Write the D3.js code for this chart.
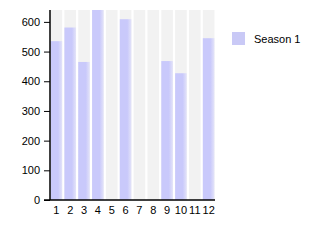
<!DOCTYPE html>
<html>
  <head>
    <meta charset="utf-8">
    <title>season chart</title>
    <style>
      body { margin: 0; background: #fff; }
      text { font-family: "Liberation Sans", Arial, sans-serif; }
    </style>
  </head>
  <body>
    <div class="chart"></div>
    <script src="https://d3js.org/d3.v7.min.js"></script>
    <script>
        var w = 315, h = 250;
        var categories = ["1", "2", "3", "4", "5", "6", "7", "8", "9", "10", "11", "12"];
        var seasonValues = [535, 581, 465, 660, 0, 609, 0, 0, 468, 427, 0, 545];
        var yTicks = [0, 100, 200, 300, 400, 500, 600];
        var seriesName = "Season 1";

        var plotLeft = 50, plotRight = 215, plotTop = 10, plotBottom = 200;

        var svg = d3.select(".chart")
        	.append("svg")
        	.attr("width", w)
        	.attr("height", h);

        var x = d3.scaleBand().domain(categories).range([plotLeft, plotRight]).paddingInner(0.16).paddingOuter(0.04);
        var y = d3.scaleLinear().domain([0, 640]).range([plotBottom, plotTop]);

        var defs = svg.append("defs");
        var grad = defs.append("linearGradient").attr("id", "barGrad")
        	.attr("x1", "0%").attr("x2", "100%").attr("y1", "0%").attr("y2", "0%");
        grad.append("stop").attr("offset", "0%").attr("stop-color", "#c9c9fb");
        grad.append("stop").attr("offset", "65%").attr("stop-color", "#c9c9fb");
        grad.append("stop").attr("offset", "100%").attr("stop-color", "#e4e4f8");
        defs.append("clipPath").attr("id", "plotClip")
        	.append("rect").attr("x", plotLeft).attr("y", plotTop)
        	.attr("width", plotRight - plotLeft).attr("height", plotBottom - plotTop);

        // gray background band per category
        svg.selectAll(".band")
        	.data(categories)
        	.enter()
        	.append("rect")
        	.attr("class", "band")
        	.attr("x", function(d) { return x(d); })
        	.attr("y", plotTop)
        	.attr("width", x.bandwidth())
        	.attr("height", plotBottom - plotTop)
        	.style("fill", "#f2f2f2");

        // bars
        svg.append("g").attr("clip-path", "url(#plotClip)")
        	.selectAll(".bar")
        	.data(seasonValues)
        	.enter()
        	.append("rect")
        	.attr("class", "bar")
        	.attr("x", function(d, i) { return x(categories[i]); })
        	.attr("y", function(d) { return y(d); })
        	.attr("width", x.bandwidth())
        	.attr("height", function(d) { return plotBottom - y(d); })
        	.style("fill", "url(#barGrad)");

        // y axis
        var yAxis = svg.append("g")
        	.attr("transform", "translate(" + plotLeft + ",0)")
        	.call(d3.axisLeft(y).tickValues(yTicks).tickSize(6).tickPadding(4));
        yAxis.select(".domain").attr("d", "M0," + plotTop + "V" + plotBottom).attr("stroke", "#000").attr("stroke-width", 1.5);
        yAxis.selectAll("text").style("font-size", "11px").attr("fill", "#000");

        // x axis
        var xAxis = svg.append("g")
        	.attr("transform", "translate(0," + plotBottom + ")")
        	.call(d3.axisBottom(x).tickSize(0).tickPadding(6));
        xAxis.select(".domain").attr("d", "M" + (plotLeft - 6) + ",0H" + plotRight).attr("stroke", "#000").attr("stroke-width", 1.5);
        xAxis.selectAll("text").style("font-size", "11px").attr("fill", "#000");

        // legend
        var legend = svg.append("g").attr("transform", "translate(232,32)");
        legend.append("rect").attr("width", 13).attr("height", 13).style("fill", "#c9c9f6");
        legend.append("text").attr("x", 22).attr("y", 7).attr("dy", ".35em")
        	.style("font-size", "11px").text(seriesName);
    </script>
  </body>
</html>
